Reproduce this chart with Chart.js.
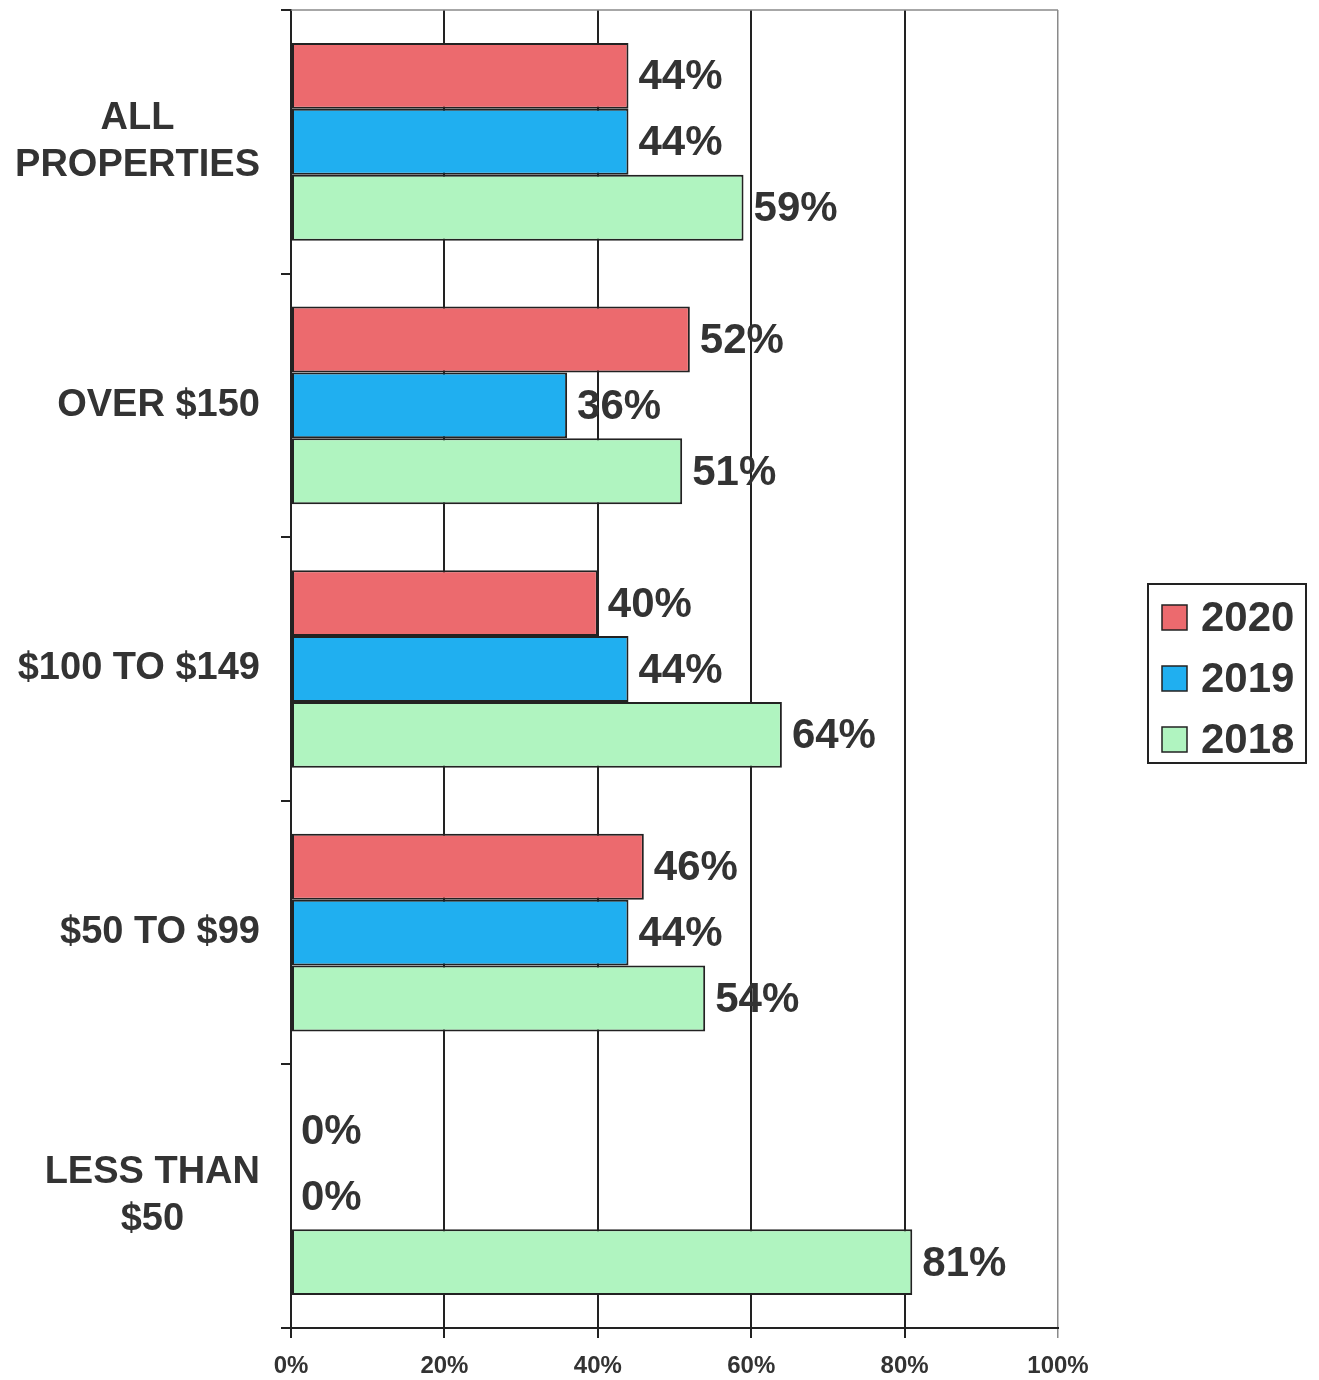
<!DOCTYPE html>
<html>
<head>
<meta charset="utf-8">
<title>Bar chart</title>
<script src="https://cdn.jsdelivr.net/npm/chart.js@4/dist/chart.umd.min.js"></script>
<style>
    html, body { margin: 0; padding: 0; background: #fff; }
    #wrap { width: 1319px; height: 1380px; position: relative; }
</style>
</head>
<body>
<div id="wrap"><canvas id="chart"></canvas></div>
<script>
// Chart data
const categories = [
    ["ALL", "PROPERTIES"],
    ["OVER $150"],
    ["$100 TO $149"],
    ["$50 TO $99"],
    ["LESS THAN", "$50"],
];
const years = ["2020", "2019", "2018"];
const values2020 = [44, 52, 40, 46, 0];
const values2019 = [44, 36, 44, 44, 0];
const values2018 = [59, 51, 64, 54, 81];
const xTicks = [0, 20, 40, 60, 80, 100];

const colors = ["#ec6a6e", "#20aff0", "#b0f4c0"];
const textColor = "#333333";
const fontFamily = "'Liberation Sans', Arial, sans-serif";

// Draws value labels, category labels and the legend box
const labelPlugin = {
    id: "labels",
    afterDraw(chart) {
        const ctx = chart.ctx;
        const area = chart.chartArea;
        ctx.save();

        // top border of the plot
        ctx.strokeStyle = "#8a8a8a";
        ctx.lineWidth = 1.5;
        ctx.beginPath();
        ctx.moveTo(area.left, area.top);
        ctx.lineTo(area.right, area.top);
        ctx.stroke();

        // value labels
        ctx.fillStyle = textColor;
        ctx.font = "bold 42px " + fontFamily;
        ctx.textAlign = "left";
        ctx.textBaseline = "middle";
        chart.data.datasets.forEach((ds, di) => {
            const meta = chart.getDatasetMeta(di);
            meta.data.forEach((bar, i) => {
                ctx.fillText(ds.data[i] + "%", bar.x + 10, bar.y + 2);
            });
        });

        // category labels
        const yScale = chart.scales.y;
        ctx.font = "bold 38px " + fontFamily;
        ctx.textAlign = "center";
        categories.forEach((lines, i) => {
            const cy = yScale.getPixelForValue(i);
            const maxW = Math.max(...lines.map((l) => ctx.measureText(l).width));
            const cx = 260 - maxW / 2;
            const lh = 47;
            lines.forEach((line, j) => {
                ctx.fillText(line, cx, cy + (j - (lines.length - 1) / 2) * lh);
            });
        });

        // legend
        const lx = 1148, ly = 584, lw = 158, lh = 179;
        ctx.fillStyle = "#fff";
        ctx.fillRect(lx, ly, lw, lh);
        ctx.strokeStyle = "#222";
        ctx.lineWidth = 2;
        ctx.strokeRect(lx, ly, lw, lh);
        ctx.font = "bold 42px " + fontFamily;
        ctx.textAlign = "left";
        years.forEach((yr, i) => {
            const cy = ly + 33 + i * 61;
            ctx.fillStyle = colors[i];
            ctx.fillRect(lx + 14, cy - 12, 25, 25);
            ctx.strokeStyle = "#222";
            ctx.lineWidth = 1.5;
            ctx.strokeRect(lx + 14, cy - 12, 25, 25);
            ctx.fillStyle = textColor;
            ctx.fillText(yr, lx + 53, cy + 2);
        });

        ctx.restore();
    },
};

const ctx = document.getElementById("chart").getContext("2d");
const chart = new Chart(ctx, {
    type: "bar",
    data: {
        labels: categories.map((c) => c.join(" ")),
        datasets: [
            { label: years[0], data: values2020, backgroundColor: colors[0] },
            { label: years[1], data: values2019, backgroundColor: colors[1] },
            { label: years[2], data: values2018, backgroundColor: colors[2] },
        ].map((d) => ({
            ...d,
            borderColor: "#222",
            borderWidth: 2,
            borderSkipped: false,
            categoryPercentage: 0.75,
            barPercentage: 1,
        })),
    },
    options: {
        indexAxis: "y",
        responsive: true,
        maintainAspectRatio: false,
        animation: false,
        layout: { padding: { top: 10, right: 261, left: 0, bottom: 0 } },
        plugins: {
            legend: { display: false },
            tooltip: { enabled: false },
        },
        scales: {
            x: {
                min: 0,
                max: 100,
                afterBuildTicks: (axis) => {
                    axis.ticks = xTicks.map((v) => ({ value: v }));
                },
                afterFit: (axis) => {
                    axis.height = 52;
                },
                grid: {
                    color: (c) => (c.index === 5 ? "#8a8a8a" : "#222"),
                    lineWidth: (c) => (c.index === 5 ? 1.5 : 2),
                    tickLength: 10,
                },
                border: { color: "#222", width: 2 },
                ticks: {
                    callback: (v) => v + "%",
                    color: textColor,
                    font: { family: fontFamily, size: 24, weight: "bold" },
                    padding: 14,
                    maxRotation: 0,
                },
            },
            y: {
                afterFit: (axis) => {
                    axis.width = 291;
                },
                grid: {
                    drawOnChartArea: false,
                    color: "#222",
                    lineWidth: 2,
                    tickLength: 10,
                },
                border: { color: "#222", width: 2 },
                ticks: { display: false },
            },
        },
    },
    plugins: [labelPlugin],
});
</script>
</body>
</html>
